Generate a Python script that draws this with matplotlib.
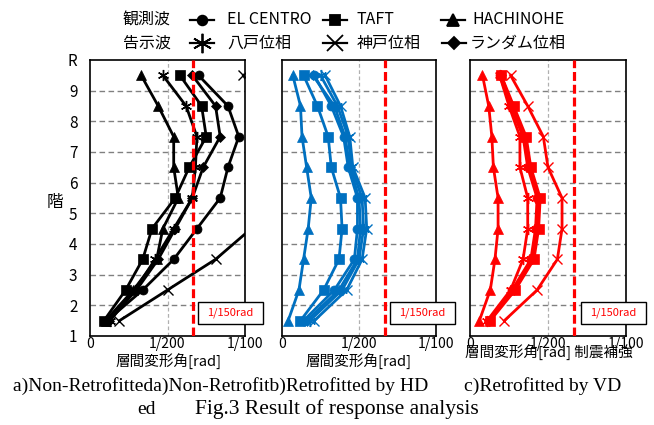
import matplotlib
matplotlib.use("Agg")
import matplotlib.pyplot as plt
from matplotlib.lines import Line2D
from matplotlib.patches import Rectangle

plt.rcParams['font.family'] = ['Noto Sans CJK JP', 'DejaVu Sans']

# ----------------------------
# data: story drift angle [rad] at mid-story 1.5 ... 9.5
# ----------------------------
floors = [1.5, 2.5, 3.5, 4.5, 5.5, 6.5, 7.5, 8.5, 9.5]
ytick_labels = ['1', '2', '3', '4', '5', '6', '7', '8', '9', 'R']
xtick_labels = ['0', '1/200', '1/100']
limit_drift = 1 / 150

# a) Non-Retrofitted
a_elcentro = [0.0011, 0.0034, 0.0054, 0.0069, 0.0084, 0.0089, 0.0096, 0.0089, 0.0070]
a_taft     = [0.0009, 0.0023, 0.0034, 0.0040, 0.0055, 0.0064, 0.0075, 0.0072, 0.0058]
a_hachi    = [0.0010, 0.0028, 0.0043, 0.0047, 0.0057, 0.0054, 0.0054, 0.0044, 0.0033]
a_hachi_ph = [0.0013, 0.0029, 0.0042, 0.0054, 0.0066, 0.0068, 0.0069, 0.0062, 0.0047]
a_kobe_ph  = [0.0019, 0.0050, 0.0081, 0.0104, 0.0115, 0.0120, 0.0120, 0.0112, 0.0099]
a_random   = [0.0012, 0.0030, 0.0044, 0.0055, 0.0066, 0.0073, 0.0084, 0.0081, 0.0066]

# b) Retrofitted by HD
b_elcentro = [0.0014, 0.0034, 0.0047, 0.0049, 0.0049, 0.0043, 0.0040, 0.0032, 0.0021]
b_taft     = [0.0012, 0.0027, 0.0037, 0.0039, 0.0038, 0.0032, 0.0030, 0.0023, 0.0014]
b_hachi    = [0.0004, 0.0011, 0.0014, 0.0017, 0.0019, 0.0016, 0.0013, 0.0012, 0.0007]
b_hachi_ph = [0.0018, 0.0039, 0.0050, 0.0053, 0.0052, 0.0045, 0.0043, 0.0036, 0.0025]
b_kobe_ph  = [0.0021, 0.0042, 0.0052, 0.0055, 0.0054, 0.0046, 0.0044, 0.0038, 0.0028]
b_random   = [0.0016, 0.0037, 0.0049, 0.0051, 0.0050, 0.0044, 0.0041, 0.0034, 0.0020]

# c) Retrofitted by VD
c_elcentro = [0.0012, 0.0027, 0.0039, 0.0042, 0.0043, 0.0037, 0.0034, 0.0026, 0.0019]
c_taft     = [0.0013, 0.0029, 0.0041, 0.0044, 0.0045, 0.0039, 0.0036, 0.0028, 0.0020]
c_hachi    = [0.0006, 0.0013, 0.0016, 0.0018, 0.0018, 0.0015, 0.0014, 0.0012, 0.0008]
c_hachi_ph = [0.0011, 0.0026, 0.0034, 0.0037, 0.0037, 0.0032, 0.0032, 0.0025, 0.0019]
c_kobe_ph  = [0.0022, 0.0043, 0.0056, 0.0059, 0.0059, 0.0050, 0.0047, 0.0037, 0.0026]
c_random   = [0.0012, 0.0028, 0.0040, 0.0043, 0.0044, 0.0038, 0.0035, 0.0027, 0.0020]

# marker per wave (same order as lists above)
wave_markers = ['o', 's', '^', (6, 2, 0), 'x', 'D']
wave_ms = [6.5, 6.5, 7, 8, 6.5, 5.5]

W, H = 654, 425


def fx(px):
    return px / W


def fy(py):
    return 1 - py / H


fig = plt.figure(figsize=(6.54, 4.25), dpi=100)

panels = [
    (90, 155, 'black', [a_elcentro, a_taft, a_hachi, a_hachi_ph, a_kobe_ph, a_random]),
    (282, 154, '#0070C0', [b_elcentro, b_taft, b_hachi, b_hachi_ph, b_kobe_ph, b_random]),
    (470, 156, '#FF0000', [c_elcentro, c_taft, c_hachi, c_hachi_ph, c_kobe_ph, c_random]),
]
top, bottom = 60, 336

for i, (left, width, col, series) in enumerate(panels):
    ax = fig.add_axes([fx(left), fy(bottom), width / W, (bottom - top) / H])
    ax.set_xlim(0, 0.01)
    ax.set_ylim(1, 10)
    for y in range(2, 10):
        ax.axhline(y, color='#808080', lw=1.0, ls=(0, (4, 2.5)), zorder=1)
    ax.axvline(0.005, color='#b0b0b0', lw=0.9, ls=(0, (3, 2)), zorder=1)
    ax.axvline(limit_drift, color='#FF0000', lw=2.3, ls=(0, (2.8, 1.2)), zorder=4)

    for vals, mk, ms in zip(series, wave_markers, wave_ms):
        ax.plot(vals, floors, color=col, lw=2.0, marker=mk, ms=ms,
                markeredgewidth=1.0 if mk in ('x', (6, 2, 0)) else 0.5, zorder=3)

    ax.set_xticks([0, 0.005, 0.01])
    ax.set_xticklabels(xtick_labels, fontsize=10)
    ax.set_yticks(range(1, 11))
    if i == 0:
        ax.set_yticklabels(ytick_labels, fontsize=11)
    else:
        ax.set_yticklabels([])
    ax.tick_params(length=0, pad=1)
    ax.tick_params(axis='y', pad=9)
    for s in ax.spines.values():
        s.set_linewidth(1.2)

# 1/150rad boxes
for bx in [198, 390, 581]:
    fig.add_artist(Rectangle((fx(bx), fy(324)), 65 / W, 22 / H, transform=fig.transFigure,
                             facecolor='white', edgecolor='black', lw=1.0, zorder=5))
    fig.text(fx(bx + 32.5), fy(313), '1/150rad', color='#FF0000', fontsize=8,
             ha='center', va='center', zorder=6)

# axis labels
fig.text(fx(55), fy(202), '階', fontsize=12, ha='center', va='center')
fig.text(fx(168), fy(362), '層間変形角[rad]', fontsize=10.5, ha='center', va='center')
fig.text(fx(359), fy(362), '層間変形角[rad]', fontsize=10.5, ha='center', va='center')
fig.text(fx(549), fy(353), '層間変形角[rad] 制震補強', fontsize=10.5, ha='center', va='center')

# legend
fig.text(fx(123), fy(20), '観測波', fontsize=11.5, ha='left', va='center')
fig.text(fx(123), fy(43), '告示波', fontsize=11.5, ha='left', va='center')
leg_items = [
    (202, 20, 'o', 7, 'EL CENTRO', 227),
    (335, 20, 's', 7, 'TAFT', 357),
    (453, 20, '^', 8, 'HACHINOHE', 472),
    (202, 43, (6, 2, 0), 14, '八戸位相', 227),
    (335, 43, 'x', 11, '神戸位相', 357),
    (454, 43, 'D', 6, 'ランダム位相', 470),
]
for cx, cy, mk, ms, label, tx in leg_items:
    fig.add_artist(Line2D([fx(cx - 12), fx(cx + 12)], [fy(cy), fy(cy)], transform=fig.transFigure,
                          color='black', lw=1.6))
    fig.add_artist(Line2D([fx(cx)], [fy(cy)], transform=fig.transFigure, color='black',
                          marker=mk, ms=ms, markeredgewidth=1.3, lw=0))
    fig.text(fx(tx), fy(cy), label, fontsize=11.5, ha='left', va='center')

# captions
cap = dict(family='Liberation Serif', va='center')
fig.text(fx(13), fy(386), 'a)Non-Retrofitteda)Non-Retrofitb)Retrofitted by HD', ha='left',
         fontsize=14, **cap)
fig.text(fx(543), fy(386), 'c)Retrofitted by VD', ha='center', fontsize=14, **cap)
fig.text(fx(146), fy(409), 'ed', ha='center', fontsize=14, **cap)
fig.text(fx(337), fy(409), 'Fig.3 Result of response analysis', ha='center', fontsize=15.5, **cap)

fig.savefig('out.png', dpi=100)
